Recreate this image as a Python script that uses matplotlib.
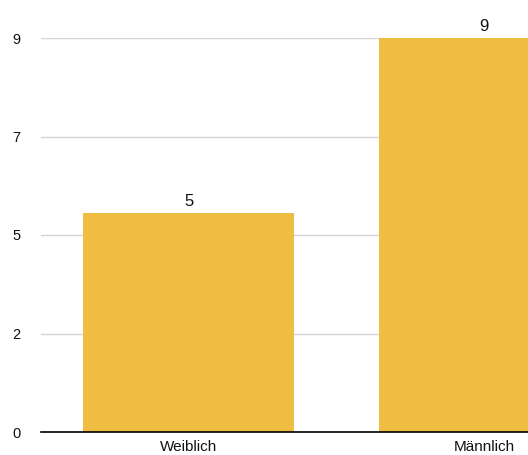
import matplotlib
matplotlib.use("Agg")
import matplotlib.pyplot as plt

categories = ["Weiblich", "Männlich"]
values = [5, 9]
tick_values = [0, 2.25, 4.5, 6.75, 9]
tick_labels = ["0", "2", "5", "7", "9"]

plt.rcParams["font.family"] = ["Liberation Sans", "DejaVu Sans"]

W, H = 528, 455
fig = plt.figure(figsize=(W / 100, H / 100), dpi=100)
left, bottom = 41 / W, (H - 432) / H
ax = fig.add_axes([left, bottom, 591 / W, 394 / H])

x = list(range(len(categories)))
ax.bar(x, values, width=0.714, color="#EEBD42", zorder=2)
for xi, v in zip(x, values):
    ax.text(xi, v + 0.1, str(v), ha="center", va="bottom", fontsize=12, color="#111111")

ax.set_xlim(-0.5, len(categories) - 0.5)
ax.set_ylim(0, 9)
ax.set_yticks(tick_values)
ax.set_yticklabels(tick_labels, fontsize=10.5, color="#111111")
ax.set_xticks(x)
ax.set_xticklabels(categories, fontsize=11, color="#111111")
ax.tick_params(axis="y", length=0, pad=15)
ax.tick_params(axis="x", length=0, pad=6)

ax.grid(axis="y", color="#d4d4d4", linewidth=1, zorder=0)
ax.set_axisbelow(True)
for side in ["top", "right", "left"]:
    ax.spines[side].set_visible(False)
ax.spines["bottom"].set_color("#000000")
ax.spines["bottom"].set_linewidth(1.2)
ax.spines["bottom"].set_zorder(3)

fig.savefig("out.png", dpi=100)
